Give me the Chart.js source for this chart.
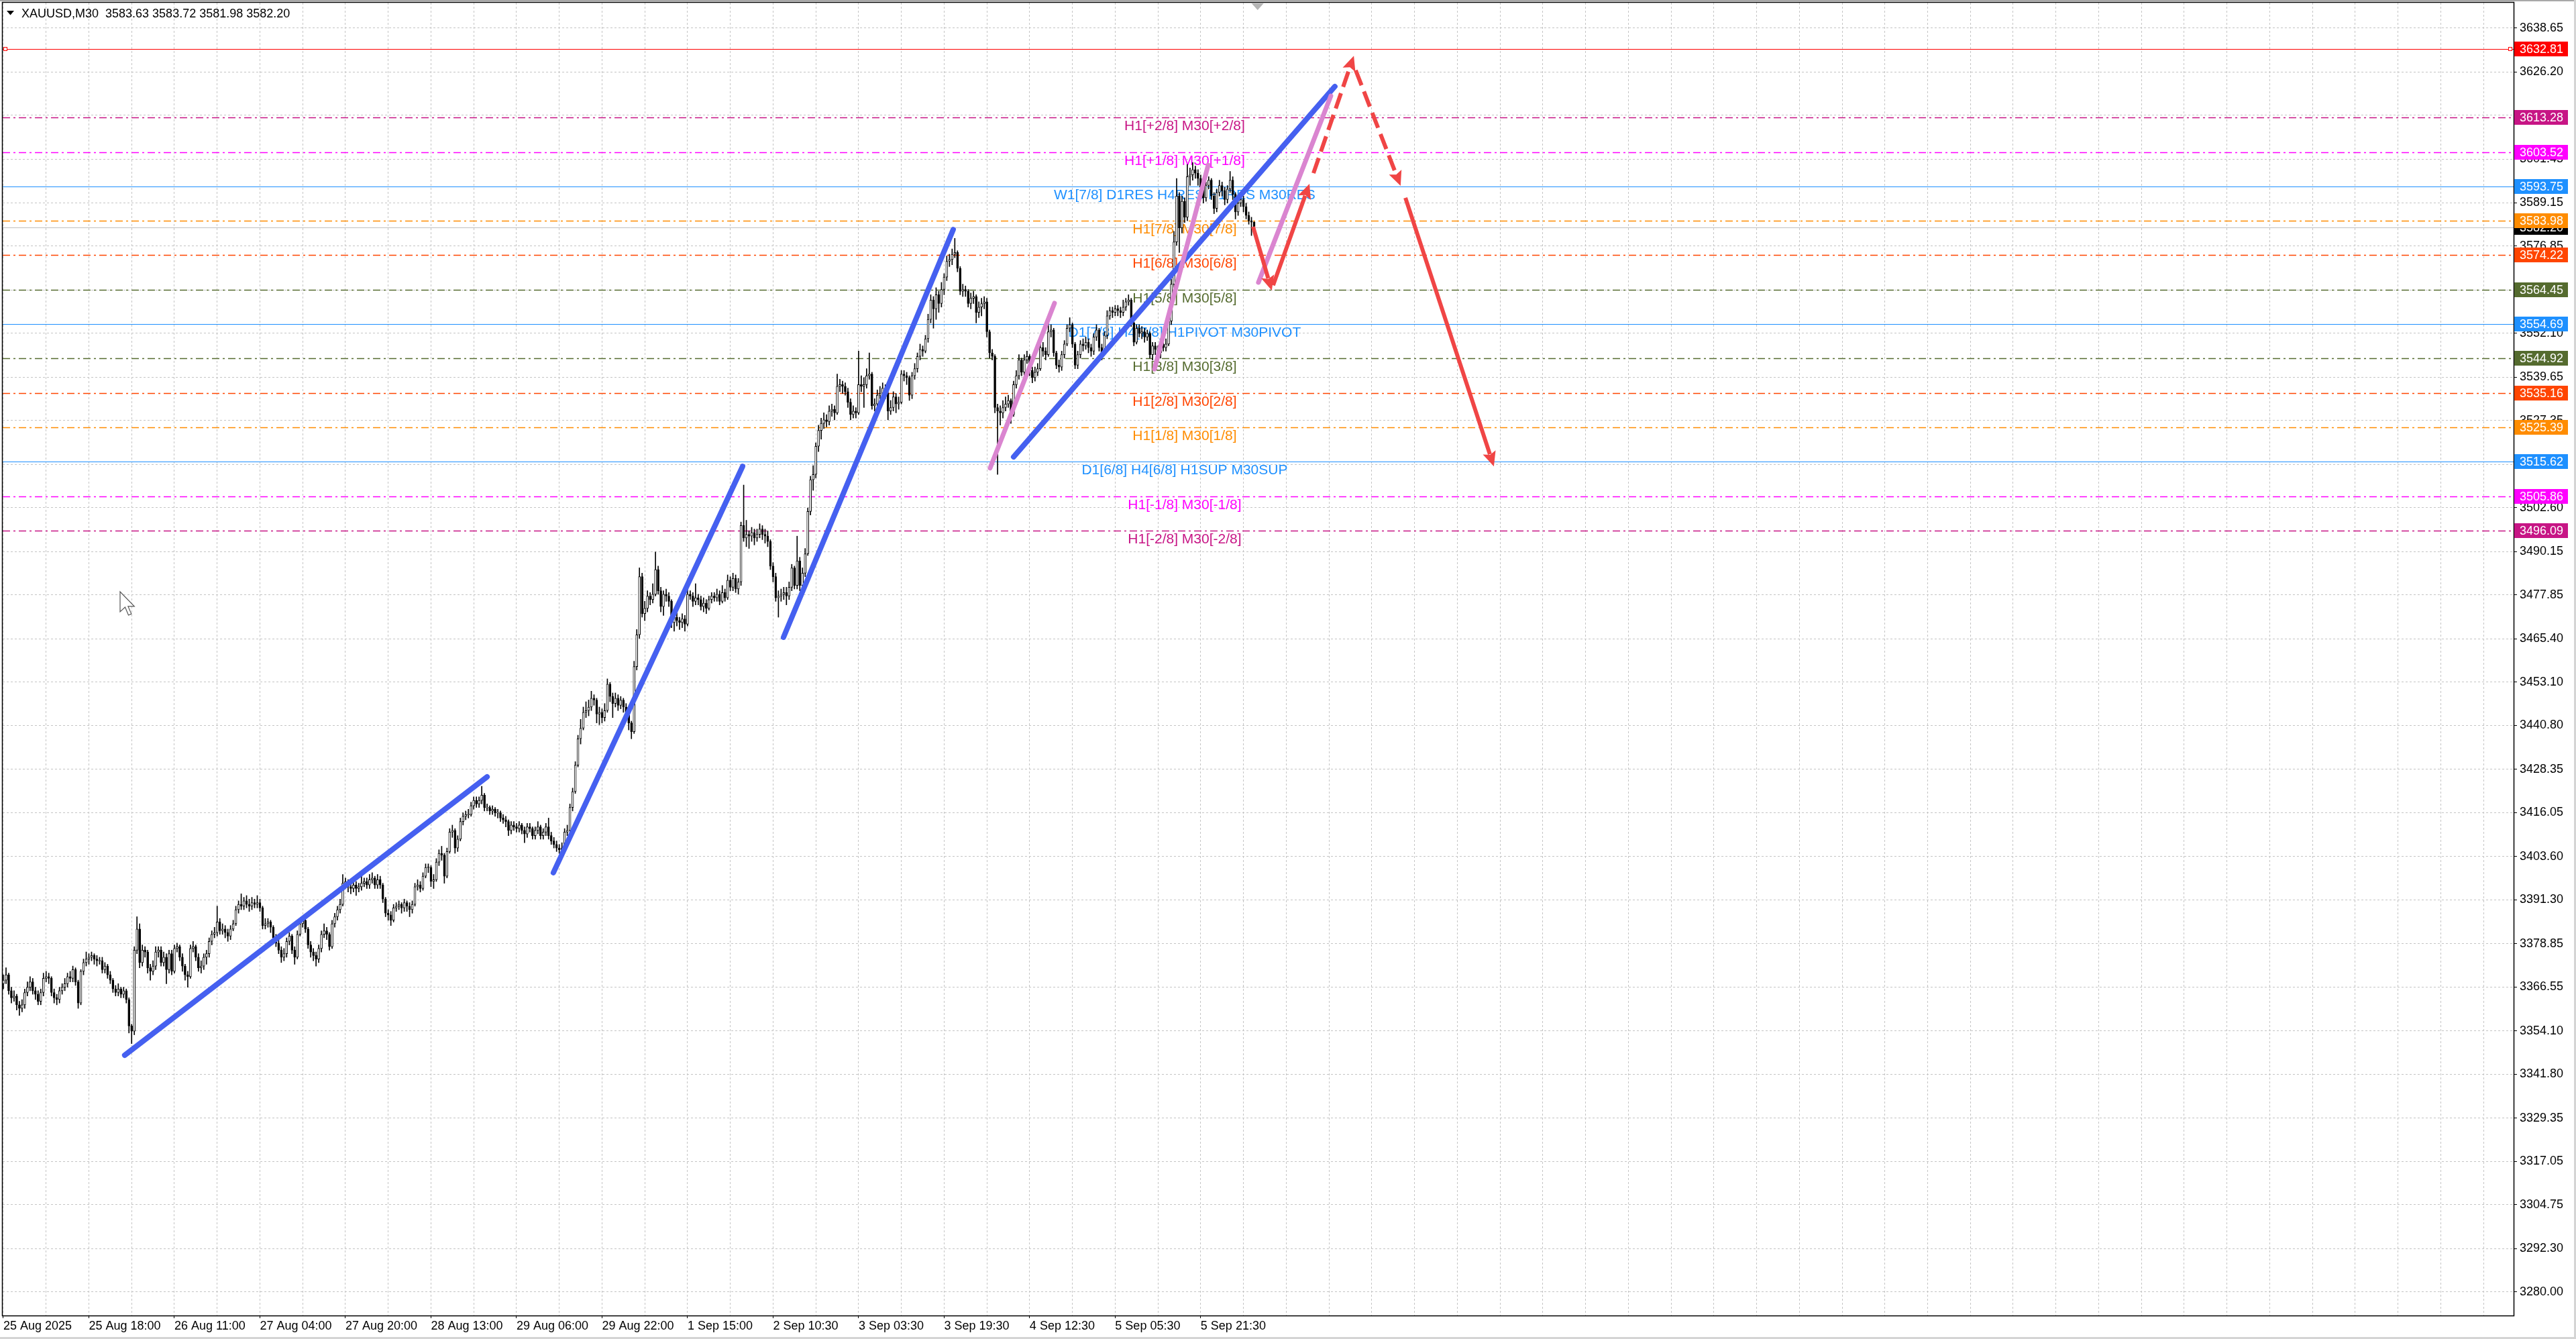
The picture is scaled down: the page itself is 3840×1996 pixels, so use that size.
<!DOCTYPE html>
<html><head><meta charset="utf-8">
<script src="https://cdn.jsdelivr.net/npm/chart.js@4.4.1/dist/chart.umd.min.js"></script>
<style>html,body{margin:0;padding:0;background:#fff;overflow:hidden}canvas{display:block}</style>
</head><body>
<canvas id="c" width="3840" height="1996"></canvas>
<script>
// ---------- DATA ----------
const opens=[3367.5,3368.5,3370,3365.5,3363.5,3364,3361.5,3360.5,3361.5,3365,
3366.5,3368,3365.5,3364.5,3362.5,3365,3369,3369.5,3369,3365,
3363.5,3363,3365.5,3366.5,3367.5,3369.5,3369,3371.5,3368,3362,
3371,3373.5,3374.5,3375,3375.5,3374.5,3374,3374,3371.5,3372.5,
3370,3368.5,3366,3365,3366,3364.5,3365.5,3363,3355.5,3354,
3377,3383,3373.5,3377,3376.5,3372,3371,3372.5,3376.5,3377,
3373.5,3375,3371.5,3376,3371,3377.5,3378,3375,3372.5,3370,
3369.5,3377.5,3378,3375,3372,3372.5,3375,3376,3379.5,3381.5,
3382,3385,3382.5,3383,3382,3381,3383,3384.5,3388.5,3390,
3389.5,3391,3390,3389.5,3390.5,3390,3390.5,3389,3384,3384.5,
3385,3383.5,3380.5,3379,3377,3375,3376,3379.5,3381,3377,
3375,3381.5,3384.5,3385.5,3383,3378.5,3376.5,3375.5,3374.5,3377.5,
3381.5,3382.5,3381.5,3378,3384.5,3386.5,3388.5,3390,3396,3396.5,
3395,3394.5,3395.5,3394.5,3395,3396,3396.5,3395.5,3397,3397.5,
3395.5,3397,3395.5,3391.5,3387.5,3387,3385.5,3389,3389.5,3390,
3389,3390.5,3389.5,3388.5,3390,3395,3395.5,3394.5,3398,3400.5,
3400.5,3396.5,3397,3402,3404.5,3404,3398,3405,3410.5,3411,
3406,3408.5,3413.5,3415,3415.5,3415.5,3418,3419.5,3418.5,3419.5,
3421,3417.5,3417.5,3416.5,3417,3416,3416,3414.5,3414,3413.5,
3411,3412.5,3412,3411.5,3412.5,3411,3410,3412,3411.5,3409.5,
3411,3412,3409.5,3410.5,3412,3409.5,3408,3407,3406,3405.5,
3406,3410.5,3411,3417.5,3422,3429.5,3437,3440,3444.5,3445,
3446,3448.5,3448,3444,3444.5,3443,3445,3452.5,3449,3447,
3448.5,3446.5,3448,3446,3444.5,3441.5,3439,3457.5,3466.5,3483,
3472.5,3474,3477.5,3476.5,3478,3485,3479,3474.5,3478,3477.5,
3476,3470,3471.5,3470.5,3470,3471,3469.5,3478,3477.5,3476,
3477,3476.5,3474.5,3475.5,3474,3476.5,3477.5,3477,3478,3476,
3478.5,3477,3482,3480,3482.5,3479.5,3481.5,3497.5,3494,3495,
3494.5,3495.5,3494,3495,3496.5,3495,3494.5,3493,3486,3483,
3477,3477.5,3478,3478.5,3477.5,3480,3485.5,3480.5,3487.5,3480.5,
3484,3489.5,3501.5,3510.5,3512,3520,3524.5,3526.5,3527.5,3527,
3530,3530.5,3529.5,3537,3537.5,3537,3535.5,3532.5,3529,3530,
3529.5,3537.5,3537,3537.5,3540,3540.5,3531.5,3532,3534.5,3535,
3536.5,3535,3530,3531,3534,3532,3532.5,3540.5,3540,3539.5,
3534.5,3540,3542,3545.5,3547.5,3547,3550.5,3556,3561.5,3559,
3563,3560.5,3564.5,3568,3572.5,3573,3574.5,3575,3570.5,3564,
3564.5,3564,3560.5,3562,3562.5,3558,3559.5,3560.5,3561,3552.5,
3546.5,3545.5,3531,3530,3529.5,3531,3532,3533,3529,3537.5,
3540,3544.5,3541,3544.5,3545.5,3541.5,3539.5,3541,3542,3548,
3547,3546,3552.5,3553,3546.5,3543,3542.5,3546,3549,3553.5,
3554.5,3549,3543,3546,3549,3548.5,3549.5,3548,3547,3551,
3553,3548,3546.5,3551.5,3557,3558.5,3558,3559,3558.5,3558,
3559.5,3561,3561.5,3555,3549.5,3553.5,3552,3552.5,3551,3552,
3546,3548.5,3547.5,3546.5,3549,3548,3549,3555.5,3566,3578,
3591,3582,3589.5,3585,3596.5,3597,3598.5,3597.5,3596,3593.5,
3590.5,3594,3595.5,3591,3587.5,3592,3594,3592.5,3590,3593,
3595.5,3591.5,3586.5,3589,3590,3588,3585.5,3584,3583.63];

const highs=[3370,3372,3370.5,3366.5,3365.5,3364.5,3362.5,3363,3366,3368,
3369.5,3369,3366.5,3365.5,3366,3370.5,3371,3370.5,3369.5,3366,
3364.5,3366.5,3367.5,3369,3370.5,3371,3372.5,3372,3368.5,3371.5,
3374.5,3376.5,3376,3376.5,3376,3375.5,3375,3375,3373.5,3373,
3371,3369,3367,3367.5,3366.5,3366.5,3366,3363.5,3356,3378,
3386.5,3384.5,3378.5,3378,3377,3373,3374,3378,3378,3378,
3376.5,3376,3377,3377,3378.5,3379,3378.5,3376,3373,3371,
3378.5,3379.5,3378.5,3376,3374,3376,3377,3380.5,3382.5,3383.5,
3389.5,3386,3384.5,3384,3383,3384,3385.5,3389.5,3391,3393,
3392,3392.5,3391.5,3392,3391.5,3392.5,3391.5,3389.5,3386,3386,
3385.5,3384,3381.5,3380,3378,3377.5,3380.5,3382,3381.5,3378,
3382.5,3386,3386.5,3386,3383.5,3379.5,3377.5,3376.5,3378.5,3382.5,
3384.5,3383.5,3382,3385.5,3387.5,3389.5,3391.5,3398.5,3397.5,3397,
3396.5,3397,3396.5,3396,3398,3397.5,3397.5,3398.5,3399,3398,
3398.5,3398,3396,3392,3388.5,3388,3390,3390.5,3391,3390.5,
3391.5,3391,3390.5,3391,3396,3397,3396.5,3399,3401.5,3401.5,
3401,3398.5,3403,3405.5,3406.5,3404.5,3406,3411.5,3412.5,3411.5,
3409.5,3414.5,3416,3416.5,3417,3419,3420.5,3420.5,3420.5,3423.5,
3421.5,3418.5,3418,3418,3417.5,3417,3416.5,3415.5,3415,3414,
3413.5,3413.5,3413,3413.5,3413,3412,3413,3413,3412,3412,
3413.5,3412.5,3411.5,3413,3414.5,3410.5,3409,3408,3407,3407.5,
3411.5,3412.5,3418.5,3423,3430.5,3438,3442.5,3446,3447.5,3448,
3450.5,3449.5,3448.5,3446,3445.5,3447,3454,3453,3450,3450,
3449.5,3449,3448.5,3447,3445,3442,3459,3468,3485.5,3484,
3476,3479,3478.5,3481,3490,3486,3480,3479,3479.5,3478.5,
3476.5,3472.5,3473,3471.5,3472.5,3472,3480,3479,3478.5,3481,
3478,3477.5,3477,3476.5,3477.5,3478.5,3478.5,3479.5,3479,3480.5,
3479.5,3483.5,3483,3484,3483.5,3482.5,3498.5,3509,3499,3496,
3497,3496.5,3496.5,3498,3497.5,3496.5,3496,3493.5,3487,3484,
3479,3479.5,3480,3480,3481.5,3486.5,3486,3494.5,3488.5,3485.5,
3491,3502.5,3511.5,3514.5,3521,3526,3528,3529.5,3529,3531.5,
3532,3531.5,3540.5,3539,3538.5,3538,3536.5,3533.5,3531.5,3531,
3547,3540,3539.5,3542,3546.5,3541,3533.5,3536,3537,3538,
3537.5,3535.5,3533,3535.5,3535,3534,3541.5,3541.5,3541,3540,
3541,3543.5,3546.5,3549,3548.5,3551.5,3557.5,3563,3562.5,3565,
3564,3566.5,3569,3574,3574.5,3576,3579,3575.5,3571,3566,
3565.5,3564.5,3563.5,3564,3563,3561,3562,3562.5,3562,3553,
3547.5,3546,3532,3531.5,3533,3534,3534.5,3533.5,3538.5,3541.5,
3546,3545,3546,3547,3546,3542.5,3542.5,3543.5,3549,3549.5,
3548,3555,3554.5,3553.5,3547,3544.5,3547,3550,3554.5,3556.5,
3555,3549.5,3547,3550,3550.5,3551,3550.5,3549,3552,3554.5,
3553.5,3549,3552.5,3558.5,3559.5,3559.5,3560,3560,3559.5,3561.5,
3562,3563,3562,3556,3554.5,3554.5,3554,3553.5,3553,3552.5,
3549.5,3549.5,3548.5,3550,3550,3550.5,3556.5,3567.5,3581,3596,
3592,3591,3590.5,3600,3599,3600.5,3599.5,3598.5,3597,3594.5,
3595,3596.5,3596,3592,3593,3595.5,3595,3593.5,3594,3598,
3596.5,3592,3590.5,3591.5,3591,3589,3586.5,3585,3583.72];

const lows=[3366,3367.5,3364.5,3362,3362.5,3360,3358.5,3359.5,3360.5,3364,
3365.5,3364.5,3363,3361.5,3361.5,3364,3368,3367.5,3364,3362,
3361.5,3362,3364.5,3365.5,3366.5,3368,3368,3367,3360.5,3361.5,
3370,3372.5,3373,3374,3373,3372.5,3373,3370.5,3370.5,3369,
3367.5,3365,3364,3364,3363.5,3363.5,3362,3353.5,3350.5,3353,
3376,3372,3372.5,3375,3370.5,3368.5,3370,3371.5,3375,3372.5,
3372.5,3367.5,3370.5,3370,3370.5,3376.5,3374,3371,3368.5,3366.5,
3369,3376.5,3374,3371,3370.5,3371.5,3373,3375,3378.5,3380.5,
3381,3381.5,3381.5,3380.5,3379.5,3380,3382.5,3384,3387.5,3388.5,
3388.5,3389,3388,3388.5,3389,3389,3388,3383,3383,3383.5,
3382,3379.5,3378,3376,3373.5,3374,3375,3378.5,3376,3373,
3374.5,3381,3383.5,3382,3377.5,3375,3374,3372.5,3373.5,3376.5,
3380.5,3380,3377,3377.5,3383.5,3385.5,3387.5,3389.5,3394.5,3393.5,
3393,3393.5,3392.5,3393.5,3394,3395,3394.5,3394.5,3396,3394.5,
3394.5,3394.5,3390.5,3386.5,3385.5,3384,3385,3388,3388.5,3387.5,
3388,3388,3386.5,3387.5,3389.5,3394,3393.5,3394,3397.5,3399,
3395,3394.5,3396.5,3401,3402.5,3396,3397.5,3404.5,3409,3404.5,
3405,3408,3412.5,3414,3414.5,3415,3417,3417.5,3417.5,3418.5,
3416.5,3416.5,3415.5,3415.5,3415,3414.5,3413.5,3413,3412,3409.5,
3410,3411,3410.5,3410.5,3410,3407.5,3409,3410.5,3408.5,3408.5,
3410,3408.5,3408.5,3409.5,3408.5,3407,3406,3405,3404.5,3404.5,
3405.5,3409.5,3410.5,3416.5,3421.5,3429,3435.5,3439.5,3443,3443.5,
3445,3446.5,3441.5,3441,3441.5,3442,3444.5,3447.5,3443,3446,
3445,3445.5,3444.5,3442.5,3439.5,3437,3438.5,3456.5,3465.5,3471.5,
3470.5,3473,3475,3475.5,3477.5,3478,3473,3472,3476,3474.5,
3468.5,3467.5,3469,3468,3468.5,3467.5,3469,3476.5,3474.5,3475,
3475,3473.5,3473,3472.5,3473.5,3475.5,3476,3476,3475,3475.5,
3476,3476.5,3479,3479,3478.5,3478,3480.5,3493,3491.5,3491,
3493,3492,3493,3494,3493.5,3492.5,3491.5,3485,3481.5,3476,
3471.5,3476,3476.5,3475,3476.5,3479,3479.5,3479.5,3479,3477.5,
3483,3489,3500.5,3507.5,3511,3518.5,3522,3525,3525.5,3526,
3528.5,3527.5,3529,3535.5,3535,3534.5,3531,3527.5,3528,3528,
3529,3535.5,3531,3536.5,3539,3530.5,3530,3531,3533.5,3534,
3533.5,3527.5,3529,3530,3529.5,3530.5,3532,3538.5,3537.5,3533,
3533.5,3539,3541,3544.5,3545.5,3546.5,3549.5,3555,3553.5,3556,
3558,3559.5,3563,3567,3571,3571.5,3573.5,3569.5,3563,3562.5,
3562.5,3559.5,3559,3560.5,3555,3556.5,3557,3559,3551,3545,
3544.5,3529.5,3512,3526,3528,3530,3531,3526.5,3528.5,3536.5,
3539,3540,3540,3543.5,3540,3538,3538.5,3540,3541.5,3545.5,
3544.5,3545.5,3551,3545.5,3542,3541,3541.5,3545,3548.5,3552.5,
3548,3542,3542,3545,3547,3547.5,3546.5,3545.5,3546,3550,
3547,3544.5,3546,3550.5,3556,3556.5,3557,3557,3556.5,3557,
3558.5,3560,3554,3548.5,3549,3551,3550.5,3549.5,3550,3545,
3544.5,3546,3545.5,3545,3547,3547,3548.5,3554.5,3564,3577,
3575,3580.5,3583.5,3584,3594,3595.5,3596,3594,3592,3589,
3589.5,3593,3590,3586,3586.5,3591,3591,3588.5,3589,3592,
3590,3584.5,3585.5,3588,3586.5,3584.5,3583,3579.8,3581.98];

const closes=[3368.5,3370,3365.5,3363.5,3364,3361.5,3360.5,3361.5,3365,3366.5,
3368,3365.5,3364.5,3362.5,3365,3369,3369.5,3369,3365,3363.5,
3363,3365.5,3366.5,3367.5,3369.5,3369,3371.5,3368,3362,3371,
3373.5,3374.5,3375,3375.5,3374.5,3374,3374,3371.5,3372.5,3370,
3368.5,3366,3365,3366,3364.5,3365.5,3363,3355.5,3354,3377,
3383,3373.5,3377,3376.5,3372,3371,3372.5,3376.5,3377,3373.5,
3375,3371.5,3376,3371,3377.5,3378,3375,3372.5,3370,3369.5,
3377.5,3378,3375,3372,3372.5,3375,3376,3379.5,3381.5,3382,
3385,3382.5,3383,3382,3381,3383,3384.5,3388.5,3390,3389.5,
3391,3390,3389.5,3390.5,3390,3390.5,3389,3384,3384.5,3385,
3383.5,3380.5,3379,3377,3375,3376,3379.5,3381,3377,3375,
3381.5,3384.5,3385.5,3383,3378.5,3376.5,3375.5,3374.5,3377.5,3381.5,
3382.5,3381.5,3378,3384.5,3386.5,3388.5,3390,3396,3396.5,3395,
3394.5,3395.5,3394.5,3395,3396,3396.5,3395.5,3397,3397.5,3395.5,
3397,3395.5,3391.5,3387.5,3387,3385.5,3389,3389.5,3390,3389,
3390.5,3389.5,3388.5,3390,3395,3395.5,3394.5,3398,3400.5,3400.5,
3396.5,3397,3402,3404.5,3404,3398,3405,3410.5,3411,3406,
3408.5,3413.5,3415,3415.5,3415.5,3418,3419.5,3418.5,3419.5,3421,
3417.5,3417.5,3416.5,3417,3416,3416,3414.5,3414,3413.5,3411,
3412.5,3412,3411.5,3412.5,3411,3410,3412,3411.5,3409.5,3411,
3412,3409.5,3410.5,3412,3409.5,3408,3407,3406,3405.5,3406,
3410.5,3411,3417.5,3422,3429.5,3437,3440,3444.5,3445,3446,
3448.5,3448,3444,3444.5,3443,3445,3452.5,3449,3447,3448.5,
3446.5,3448,3446,3444.5,3441.5,3439,3457.5,3466.5,3483,3472.5,
3474,3477.5,3476.5,3478,3485,3479,3474.5,3478,3477.5,3476,
3470,3471.5,3470.5,3470,3471,3469.5,3478,3477.5,3476,3477,
3476.5,3474.5,3475.5,3474,3476.5,3477.5,3477,3478,3476,3478.5,
3477,3482,3480,3482.5,3479.5,3481.5,3497.5,3494,3495,3494.5,
3495.5,3494,3495,3496.5,3495,3494.5,3493,3486,3483,3477,
3477.5,3478,3478.5,3477.5,3480,3485.5,3480.5,3487.5,3480.5,3484,
3489.5,3501.5,3510.5,3512,3520,3524.5,3526.5,3527.5,3527,3530,
3530.5,3529.5,3537,3537.5,3537,3535.5,3532.5,3529,3530,3529.5,
3537.5,3537,3537.5,3540,3540.5,3531.5,3532,3534.5,3535,3536.5,
3535,3530,3531,3534,3532,3532.5,3540.5,3540,3539.5,3534.5,
3540,3542,3545.5,3547.5,3547,3550.5,3556,3561.5,3559,3563,
3560.5,3564.5,3568,3572.5,3573,3574.5,3575,3570.5,3564,3564.5,
3564,3560.5,3562,3562.5,3558,3559.5,3560.5,3561,3552.5,3546.5,
3545.5,3531,3530,3529.5,3531,3532,3533,3529,3537.5,3540,
3544.5,3541,3544.5,3545.5,3541.5,3539.5,3541,3542,3548,3547,
3546,3552.5,3553,3546.5,3543,3542.5,3546,3549,3553.5,3554.5,
3549,3543,3546,3549,3548.5,3549.5,3548,3547,3551,3553,
3548,3546.5,3551.5,3557,3558.5,3558,3559,3558.5,3558,3559.5,
3561,3561.5,3555,3549.5,3553.5,3552,3552.5,3551,3552,3546,
3548.5,3547.5,3546.5,3549,3548,3549,3555.5,3566,3578,3591,
3582,3589.5,3585,3596.5,3597,3598.5,3597.5,3596,3593.5,3590.5,
3594,3595.5,3591,3587.5,3592,3594,3592.5,3590,3593,3595.5,
3591.5,3586.5,3589,3590,3588,3585.5,3584,3583.6,3582.2];

const timeLabels=['25 Aug 2025','25 Aug 18:00','26 Aug 11:00','27 Aug 04:00','27 Aug 20:00','28 Aug 13:00','29 Aug 06:00','29 Aug 22:00','1 Sep 15:00','2 Sep 10:30','3 Sep 03:30','3 Sep 19:30','4 Sep 12:30','5 Sep 05:30','5 Sep 21:30'];
const priceTicks=[3638.65,3626.20,3613.90,3601.45,3589.15,3576.85,3564.40,3552.10,3539.65,3527.35,3514.90,3502.60,3490.15,3477.85,3465.40,3453.10,3440.80,3428.35,3416.05,3403.60,3391.30,3378.85,3366.55,3354.10,3341.80,3329.35,3317.05,3304.75,3292.30,3280.00];

const levelValues=[3632.81,3613.28,3603.52,3593.75,3583.98,3574.22,3564.45,3554.69,3544.92,3535.16,3525.39,3515.62,3505.86,3496.09];
const levelTexts=['','H1[+2/8] M30[+2/8]','H1[+1/8] M30[+1/8]','W1[7/8] D1RES H4RES H1RES M30RES','H1[7/8] M30[7/8]','H1[6/8] M30[6/8]','H1[5/8] M30[5/8]','D1[7/8] H4[7/8] H1PIVOT M30PIVOT','H1[3/8] M30[3/8]','H1[2/8] M30[2/8]','H1[1/8] M30[1/8]','D1[6/8] H4[6/8] H1SUP M30SUP','H1[-1/8] M30[-1/8]','H1[-2/8] M30[-2/8]'];
const bidPrice=3582.20;
const headerText='XAUUSD,M30  3583.63 3583.72 3581.98 3582.20';

// drawn objects: [barFrom, priceFrom, barTo, priceTo]
const blueLines=[[45.4,3347.2,181.0,3426.2],[205.8,3399.0,276.6,3514.3],[291.9,3465.8,355.4,3581.5],[378.0,3517.0,498.2,3622.1]];
const pinkLines=[[369.2,3513.8,393.3,3560.6],[430.7,3541.9,450.8,3599.8],[469.6,3566.5,496.7,3619.4]];
const redArrows=[[467.6,3582.3,474.6,3564.2],[475.1,3565.7,488.7,3594.5],[524.6,3590.5,557.7,3514.3]];
const redDashedArrows=[[490.2,3597.5,505.3,3630.8],[506.0,3626.7,522.8,3593.9]];

// ---------- STYLE ----------
const FONT='"Liberation Sans", Arial, sans-serif';
const LEVEL_COLORS=['#FF0000','#C71585','#FF00FF','#1E90FF','#FF8C00','#FF4500','#556B2F','#1E90FF','#556B2F','#FF4500','#FF8C00','#1E90FF','#FF00FF','#C71585'];
const LEVEL_SOLID=[true,false,false,true,false,false,false,true,false,false,false,true,false,false];
const BLUE='#4560F0', PINK='#DA85D0', RED='#F04545';
const LABEL_BAR=442;
const X_MIN=-0.25, X_MAX=939.25, Y_MIN=3273.33, Y_MAX=3645.88;

Chart.defaults.font.family=FONT;

const xGrid=[]; for(let v=0; v<=X_MAX; v+=16) xGrid.push(v);

const wickData=closes.map((c,i)=>({x:i,y:[Math.min(lows[i],opens[i],c),Math.max(highs[i],opens[i],c)]}));
const bodyData=closes.map((c,i)=>{
  let a=opens[i], b=c;
  if(Math.abs(a-b)<0.2){ const m=(a+b)/2; a=m-0.1; b=m+0.1; }
  return {x:i,y:[a,b]};
});
const bodyColors=closes.map((c,i)=>c>=opens[i]?'#ffffff':'#000000');

const lineSet=(arr,color,width,order)=>arr.map(l=>({
  type:'line', data:[{x:l[0],y:l[1]},{x:l[2],y:l[3]}],
  borderColor:color, borderWidth:width, pointRadius:0, borderCapStyle:'round',
  tension:0, order:order, clip:false
}));

function drawArrow(ctx,x0,y0,x1,y1,dash){
  const dx=x1-x0, dy=y1-y0, L=Math.hypot(dx,dy), ux=dx/L, uy=dy/L;
  const hl=22, hw=10;
  const bx=x1-ux*hl, by=y1-uy*hl;
  ctx.save();
  ctx.strokeStyle=RED; ctx.lineWidth=6; ctx.lineCap='butt'; ctx.setLineDash(dash);
  ctx.beginPath(); ctx.moveTo(x0,y0); ctx.lineTo(bx+ux*3,by+uy*3); ctx.stroke();
  ctx.setLineDash([]); ctx.fillStyle=RED;
  ctx.beginPath(); ctx.moveTo(x1,y1);
  ctx.lineTo(bx-uy*hw,by+ux*hw);
  ctx.lineTo(bx+ux*4,by+uy*4);
  ctx.lineTo(bx+uy*hw,by-ux*hw);
  ctx.closePath(); ctx.fill();
  ctx.restore();
}

const overlay={
  id:'overlay',
  beforeDatasetsDraw(chart){
    const {ctx,chartArea:a,scales:{x,y}}=chart;
    ctx.save();
    ctx.beginPath(); ctx.rect(a.left,a.top,a.right-a.left,a.bottom-a.top); ctx.clip();
    const bp=Math.round(y.getPixelForValue(bidPrice))+0.5;
    ctx.strokeStyle='#c0c0c0'; ctx.lineWidth=1; ctx.setLineDash([]);
    ctx.beginPath(); ctx.moveTo(a.left,bp); ctx.lineTo(a.right,bp); ctx.stroke();
    levelValues.forEach((v,k)=>{
      const py=Math.round(y.getPixelForValue(v))+0.5;
      ctx.strokeStyle=LEVEL_COLORS[k];
      ctx.lineWidth=LEVEL_SOLID[k]?1.2:1.5;
      ctx.setLineDash(LEVEL_SOLID[k]?[]:[11,5,3,5]);
      ctx.beginPath(); ctx.moveTo(a.left,py); ctx.lineTo(a.right,py); ctx.stroke();
    });
    ctx.setLineDash([]);
    ctx.font='21px '+FONT; ctx.textAlign='center'; ctx.textBaseline='alphabetic';
    levelValues.forEach((v,k)=>{
      if(!levelTexts[k]) return;
      const py=y.getPixelForValue(v);
      ctx.fillStyle=LEVEL_COLORS[k];
      ctx.fillText(levelTexts[k],x.getPixelForValue(LABEL_BAR),py+19);
    });
    ctx.restore();
  },
  afterDatasetsDraw(chart){
    const {ctx,chartArea:a,scales:{x,y}}=chart;
    ctx.save();
    ctx.beginPath(); ctx.rect(a.left,a.top,a.right-a.left,a.bottom-a.top); ctx.clip();
    redDashedArrows.forEach(l=>drawArrow(ctx,x.getPixelForValue(l[0]),y.getPixelForValue(l[1]),x.getPixelForValue(l[2]),y.getPixelForValue(l[3]),[24,10]));
    redArrows.forEach(l=>drawArrow(ctx,x.getPixelForValue(l[0]),y.getPixelForValue(l[1]),x.getPixelForValue(l[2]),y.getPixelForValue(l[3]),[]));
    ctx.restore();
  },
  afterDraw(chart){
    const {ctx,chartArea:a,scales:{x,y}}=chart;
    const W=chart.width,H=chart.height;
    ctx.save();
    ctx.fillStyle='#a8a8a8'; ctx.fillRect(0,0,W,2);
    ctx.fillStyle='#d4d4d4'; ctx.fillRect(W-3,0,3,H); ctx.fillRect(0,H-3,W,3);
    ctx.strokeStyle='#000'; ctx.lineWidth=1.5; ctx.setLineDash([]);
    ctx.strokeRect(a.left-0.5,a.top-0.5,a.right-a.left+1,a.bottom-a.top+1);
    const sx=x.getPixelForValue(closes.length+0.3);
    ctx.fillStyle='#b4b4b4';
    ctx.beginPath(); ctx.moveTo(sx-9,a.top+1); ctx.lineTo(sx+9,a.top+1); ctx.lineTo(sx,a.top+11); ctx.closePath(); ctx.fill();
    const ry=Math.round(y.getPixelForValue(levelValues[0]));
    ctx.fillStyle='#fff'; ctx.strokeStyle='#FF0000'; ctx.lineWidth=1;
    [a.left+4,a.right-5].forEach(px=>{ctx.fillRect(px-2.5,ry-2.5,5,5);ctx.strokeRect(px-2.5,ry-2.5,5,5);});
    ctx.font='18px '+FONT; ctx.textAlign='left'; ctx.textBaseline='middle';
    const tag=(v,color)=>{
      const py=Math.round(y.getPixelForValue(v));
      ctx.fillStyle=color; ctx.fillRect(a.right+1,py-11,80,22);
      ctx.fillStyle='#fff'; ctx.fillText(v.toFixed(2),a.right+9,py+1);
    };
    tag(bidPrice,'#000000');
    levelValues.forEach((v,k)=>tag(v,LEVEL_COLORS[k]));
    ctx.fillStyle='#000';
    ctx.beginPath(); ctx.moveTo(10,16); ctx.lineTo(21,16); ctx.lineTo(15.5,22.5); ctx.closePath(); ctx.fill();
    ctx.font='18px '+FONT; ctx.textBaseline='alphabetic'; ctx.textAlign='left';
    ctx.fillText(headerText,32,26);
    const cx=179, cy=882, s=1.25;
    const pts=[[0,0],[0,24],[6,18.5],[10,28],[13.5,26.5],[9.5,17.5],[17,17.5]];
    ctx.beginPath(); pts.forEach((p,i)=>{const px=cx+p[0]*s,py=cy+p[1]*s; if(i)ctx.lineTo(px,py); else ctx.moveTo(px,py);}); ctx.closePath();
    ctx.fillStyle='#fff'; ctx.fill(); ctx.strokeStyle='#555'; ctx.lineWidth=1.2; ctx.stroke();
    ctx.restore();
  }
};

new Chart(document.getElementById('c'),{
  type:'bar',
  data:{datasets:[
    {label:'wick',data:wickData,backgroundColor:'#000',barThickness:1,grouped:false,order:4},
    {label:'body',data:bodyData,backgroundColor:bodyColors,borderColor:'#000',borderWidth:1,borderSkipped:false,barThickness:3,grouped:false,order:3},
    ...lineSet(blueLines,BLUE,8,1),
    ...lineSet(pinkLines,PINK,7,0)
  ]},
  options:{
    responsive:false, animation:false, devicePixelRatio:1, events:[],
    layout:{padding:{left:4,top:4,right:0,bottom:0}},
    plugins:{legend:{display:false},tooltip:{enabled:false}},
    scales:{
      x:{type:'linear',position:'bottom',min:X_MIN,max:X_MAX,offset:false,
        afterBuildTicks:s=>{s.ticks=xGrid.map(v=>({value:v}));},
        afterFit:s=>{s.height=35; s.paddingLeft=0; s.paddingRight=0;},
        grid:{color:'#c4c4c4',lineWidth:1,offset:false,drawTicks:true,tickLength:4,tickWidth:1,tickBorderDash:[],
          tickColor:c=>(c.tick&&c.tick.value%32===0&&c.tick.value/32<timeLabels.length)?'#000':'rgba(0,0,0,0)'},
        border:{display:false,dash:[3,3]},
        ticks:{autoSkip:false,maxRotation:0,minRotation:0,align:'start',padding:1,color:'#000',font:{size:18,family:FONT},
          callback:v=>(v%32===0&&timeLabels[v/32])||''}
      },
      y:{type:'linear',position:'right',min:Y_MIN,max:Y_MAX,
        afterBuildTicks:s=>{s.ticks=priceTicks.map(v=>({value:v}));},
        afterFit:s=>{s.width=93; s.paddingTop=0; s.paddingBottom=0;},
        grid:{color:'#c4c4c4',lineWidth:1,drawTicks:true,tickLength:5,tickColor:'#000',tickWidth:1,tickBorderDash:[]},
        border:{display:false,dash:[3,3]},
        ticks:{autoSkip:false,padding:4,color:'#000',font:{size:18,family:FONT},callback:v=>Number(v).toFixed(2)}
      }
    }
  },
  plugins:[overlay]
});
</script>
</body></html>
